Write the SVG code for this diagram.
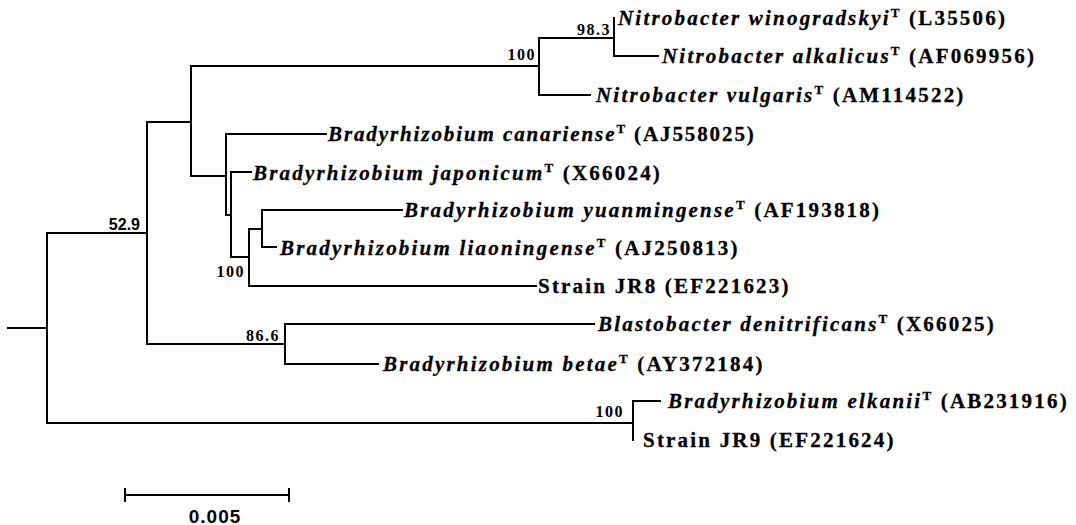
<svg xmlns="http://www.w3.org/2000/svg" width="1076" height="525" viewBox="0 0 1076 525">
<style>
.br{fill:none;stroke:#000;stroke-width:2;stroke-linecap:square}
.lab{font-family:"Liberation Serif",serif;font-size:21px;font-weight:bold;font-style:italic;letter-spacing:2.2px;fill:#000;stroke:#000;stroke-width:0.3px}
.up{font-style:normal}
.sup{font-style:normal;font-size:13px}
.bs{font-family:"Liberation Serif",serif;font-size:16px;font-weight:bold;letter-spacing:1.5px;fill:#000}
.sans{font-family:"Liberation Sans",sans-serif;font-weight:bold;fill:#000}
</style>
<rect width="1076" height="525" fill="#fff"/>
<g id="connectors" class="br">
<path d="M8 328H47M47 233V423M47 233H147M47 423H633"/>
<path d="M147 122V344M147 122H191M147 344H285"/>
<path d="M191 66V176M191 66H539M191 176H226"/>
<path d="M539 38V95M539 38H614M539 95H590"/>
<path d="M614 18V56M614 56H658"/>
<path d="M226 134V215M226 134H326M226 215H231"/>
<path d="M231 172V257M231 172H251M231 257H249"/>
<path d="M249 229V286M249 229H262M249 286H536"/>
<path d="M262 210V247M262 210H402M262 247H276"/>
<path d="M285 324V364M285 324H594M285 364H378"/>
<path d="M633 401V440M633 401H660"/>
</g>
<g id="n-winogradskyi"><text class="lab" x="618" y="25">Nitrobacter winogradskyi<tspan class="sup" dy="-8">T</tspan><tspan class="up" dy="8"> (L35506)</tspan></text></g>
<g id="n-alkalicus"><text class="lab" x="662" y="63">Nitrobacter alkalicus<tspan class="sup" dy="-8">T</tspan><tspan class="up" dy="8"> (AF069956)</tspan></text></g>
<g id="n-vulgaris"><text class="lab" x="596" y="102">Nitrobacter vulgaris<tspan class="sup" dy="-8">T</tspan><tspan class="up" dy="8"> (AM114522)</tspan></text></g>
<g id="n-canariense"><text class="lab" x="328" y="141" textLength="428" lengthAdjust="spacing">Bradyrhizobium canariense<tspan class="sup" dy="-8">T</tspan><tspan class="up" dy="8"> (AJ558025)</tspan></text></g>
<g id="n-japonicum"><text class="lab" x="253" y="180">Bradyrhizobium japonicum<tspan class="sup" dy="-8">T</tspan><tspan class="up" dy="8"> (X66024)</tspan></text></g>
<g id="n-yuanmingense"><text class="lab" x="404" y="217">Bradyrhizobium yuanmingense<tspan class="sup" dy="-8">T</tspan><tspan class="up" dy="8"> (AF193818)</tspan></text></g>
<g id="n-liaoningense"><text class="lab" x="280" y="255">Bradyrhizobium liaoningense<tspan class="sup" dy="-8">T</tspan><tspan class="up" dy="8"> (AJ250813)</tspan></text></g>
<g id="n-jr8"><text class="lab up" x="538" y="293">Strain JR8 (EF221623)</text></g>
<g id="n-denitrificans"><text class="lab" x="598" y="331" textLength="398" lengthAdjust="spacing">Blastobacter denitrificans<tspan class="sup" dy="-8">T</tspan><tspan class="up" dy="8"> (X66025)</tspan></text></g>
<g id="n-betae"><text class="lab" x="383" y="371">Bradyrhizobium betae<tspan class="sup" dy="-8">T</tspan><tspan class="up" dy="8"> (AY372184)</tspan></text></g>
<g id="n-elkanii"><text class="lab" x="668" y="408">Bradyrhizobium elkanii<tspan class="sup" dy="-8">T</tspan><tspan class="up" dy="8"> (AB231916)</tspan></text></g>
<g id="n-jr9"><text class="lab up" x="643" y="447">Strain JR9 (EF221624)</text></g>
<g id="bootstrap">
<text class="bs" x="536" y="60" text-anchor="end">100</text>
<text class="bs" x="611" y="35" text-anchor="end">98.3</text>
<text class="sans" font-size="16" x="140" y="230" text-anchor="end">52.9</text>
<text class="bs" x="245" y="277" text-anchor="end">100</text>
<text class="bs" x="280" y="341" text-anchor="end">86.6</text>
<text class="bs" x="624" y="417" text-anchor="end">100</text>
</g>
<g id="scale-bar">
<path class="br" d="M125 495H289M125 489V501M289 489V501"/>
<text class="sans" font-size="19" letter-spacing="1" x="215" y="523" text-anchor="middle">0.005</text>
</g>
</svg>
